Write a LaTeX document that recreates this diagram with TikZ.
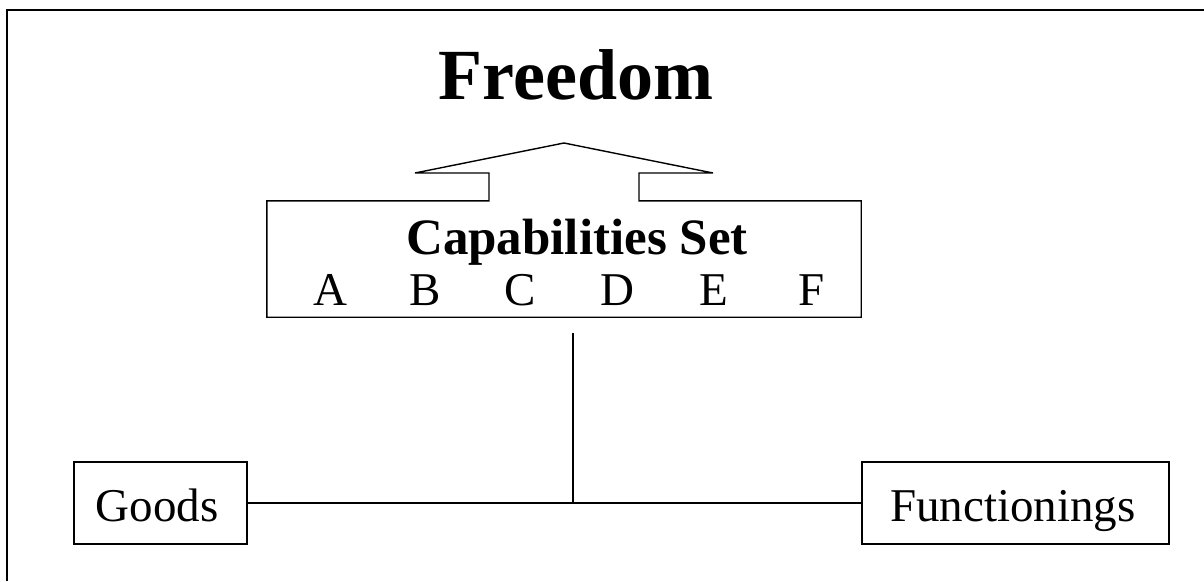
\documentclass[tikz,border=0pt]{standalone}
\usepackage{fontspec}
\setmainfont{Liberation Serif}
\begin{document}
\begin{tikzpicture}[x=1pt,y=-1pt,
  line/.style={line width=1.4pt, line join=miter},
  boxed/.style={draw, line width=1.4pt, inner sep=0pt},
  bigtxt/.style={font=\fontsize{47}{56}\selectfont, inner sep=0pt},
  titletxt/.style={font=\fontsize{72}{80}\selectfont\bfseries, inner sep=0pt}]
\useasboundingbox (0,0) rectangle (1204,581);
% frame (only top and left edges visible)
\draw[line width=2pt] (7,581) -- (7,9.5) -- (1204,9.5);
% title
\node[titletxt, anchor=base] (freedom) at (576,99) {Freedom};
% capabilities box
\node[inner sep=0pt, minimum width=594pt, minimum height=116pt] (cap) at (564,259) {};
\coordinate (sl) at (489,173);
\coordinate (sr) at (639,173);
\coordinate (tl) at (415,173);
\coordinate (tr) at (713,173);
\coordinate (peak) at (564,143);
\draw[line] (cap.north -| sl) -- (cap.north west) -- (cap.south west) -- (cap.south east)
  -- (cap.north east) -- (cap.north -| sr) -- (sr) -- (tr) -- (peak) -- (tl) -- (sl) -- cycle;
\node[inner sep=0pt, font=\fontsize{51}{60}\selectfont\bfseries, anchor=base] (captitle) at (577,254) {Capabilities Set};
\node[bigtxt, anchor=base] (la) at (330,305) {A};
\node[bigtxt, anchor=base] (lb) at (425,305) {B};
\node[bigtxt, anchor=base] (lc) at (520,305) {C};
\node[bigtxt, anchor=base] (ld) at (617,305) {D};
\node[bigtxt, anchor=base] (le) at (714,305) {E};
\node[bigtxt, anchor=base] (lf) at (812,305) {F};
% bottom boxes
\node[boxed, minimum width=173pt, minimum height=82pt] (goods) at (160.5,503) {};
\node[bigtxt, anchor=base] (goodstxt) at (157,521) {Goods};
\node[boxed, minimum width=307pt, minimum height=82pt] (func) at (1015.5,503) {};
\node[bigtxt, anchor=base] (functxt) at (1013,521) {Functionings};
% connectors
\coordinate (vtop) at (573,333);
\coordinate (junc) at (573,503);
\draw[line] (goods.east) -- (func.west);
\draw[line] (vtop) -- (junc);
\end{tikzpicture}
\end{document}
